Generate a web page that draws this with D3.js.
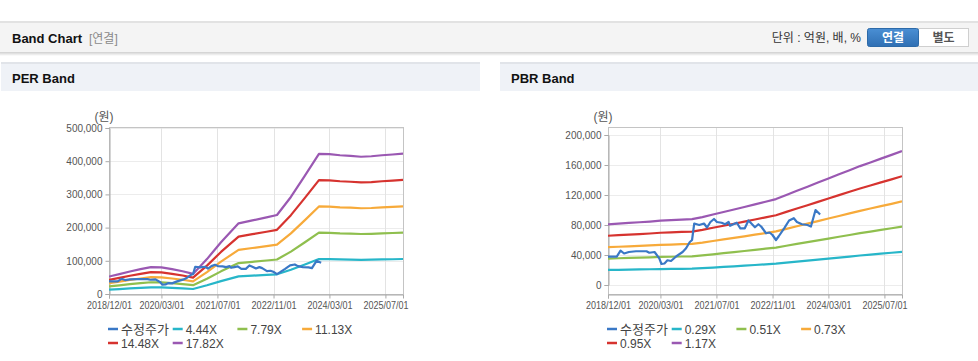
<!DOCTYPE html>
<html><head><meta charset="utf-8">
<script src="https://cdn.jsdelivr.net/npm/d3@7"></script>
<style>
html,body{margin:0;padding:0;background:#fff;}
svg{display:block;}
text{font-family:"Liberation Sans","Noto Sans CJK KR",Arial,sans-serif;}
</style></head>
<body>
<svg id="c" width="978" height="361"></svg>
<script>
// ---------- data ----------
const xTickLabels = ["2018/12/01","2020/03/01","2021/07/01","2022/11/01","2024/03/01","2025/07/01"];
const xDomain = ["2018-12-01","2025-12-01"];

// adjusted price (수정주가)
const priceDates = ["2018-12-01","2019-02-15","2019-03-20","2019-04-20","2019-06-01","2019-08-01","2019-11-01","2019-11-25","2020-01-10","2020-02-20","2020-03-10","2020-04-05","2020-05-01","2020-06-01","2020-07-15","2020-09-10","2020-10-10","2020-11-10","2020-12-01","2020-12-20","2021-02-01","2021-03-15","2021-04-10","2021-05-10","2021-06-10","2021-07-05","2021-08-15","2021-09-15","2021-10-15","2021-10-28","2021-11-25","2021-12-25","2022-01-25","2022-03-05","2022-04-05","2022-05-01","2022-06-01","2022-07-01","2022-07-25","2022-09-05","2022-10-05","2022-10-30","2022-12-01","2022-12-25","2023-02-10","2023-03-25","2023-05-05","2023-06-01","2023-07-15","2023-09-01","2023-10-01","2023-11-10","2023-12-20"];
const priceValues = [37800,37800,45800,42000,44000,45000,45000,43000,44000,35500,28000,28700,33000,32000,38000,44000,49000,57000,60000,82000,80000,82000,76700,84000,88000,84000,83000,81000,84000,79000,81000,83000,75600,75600,86000,82000,77000,81000,78000,69000,70000,67000,60000,65000,75600,86000,89000,84000,81000,80000,78000,100000,94000];

// EPS used for PER band
const epsDates = ["2018-12-01","2019-03-01","2019-06-01","2019-09-01","2019-12-01","2020-03-01","2020-06-01","2020-09-01","2020-12-01","2021-04-01","2021-08-01","2022-01-01","2022-05-01","2022-09-01","2022-12-01","2023-04-01","2023-08-01","2023-12-01","2024-03-01","2024-06-01","2024-09-01","2024-12-01","2025-03-01","2025-06-01","2025-09-01","2025-12-01"];
const epsValues = [2950,3350,3800,4200,4550,4500,4200,3850,3400,5900,8750,11950,12450,12950,13350,16400,20000,23700,23650,23450,23350,23200,23280,23450,23580,23740];
const perMultiples = [4.44,7.79,11.13,14.48,17.82];
const perLabels = ["4.44X","7.79X","11.13X","14.48X","17.82X"];

// BPS used for PBR band
const bpsDates = ["2018-12-01","2019-03-01","2019-06-01","2019-09-01","2019-12-01","2020-03-01","2020-06-01","2020-09-01","2020-12-01","2021-03-01","2021-06-01","2021-09-01","2021-12-01","2022-03-01","2022-06-01","2022-09-01","2022-12-01","2023-03-01","2023-06-01","2023-09-01","2023-12-01","2024-03-01","2024-06-01","2024-09-01","2024-12-01","2025-03-01","2025-06-01","2025-09-01","2025-12-01"];
const bpsValues = [69100,69900,70700,71500,72300,73300,73900,74500,75000,77400,80300,83200,86000,88900,91900,94900,97900,102600,107300,112000,116700,121400,126100,130800,135500,139700,144000,148300,152700];
const pbrMultiples = [0.29,0.51,0.73,0.95,1.17];
const pbrLabels = ["0.29X","0.51X","0.73X","0.95X","1.17X"];

const perYTicks = [0,100000,200000,300000,400000,500000];
const pbrYTicks = [0,40000,80000,120000,160000,200000];

const priceLabel = "수정주가";
const colors = ["#3a78c6","#27b6c9","#8fbf4e","#f7aa3a","#d6332f","#9a58b2"];

// ---------- drawing ----------
const svg = d3.select("#c");
const parse = d3.timeParse("%Y-%m-%d");
const tickParse = d3.timeParse("%Y/%m/%d");
const fmtX = d3.timeFormat("%Y/%m/%d");

// top header
svg.append("rect").attr("x",0).attr("y",21).attr("width",978).attr("height",2).attr("fill","#e2e2e2");
const defs = svg.append("defs");
const sh = defs.append("linearGradient").attr("id","shadow").attr("x1",0).attr("y1",0).attr("x2",0).attr("y2",1);
sh.append("stop").attr("offset",0).attr("stop-color","#cfcfcf");
sh.append("stop").attr("offset",1).attr("stop-color","#ffffff");
svg.append("rect").attr("x",0).attr("y",52).attr("width",978).attr("height",4).attr("fill","url(#shadow)");
svg.append("rect").attr("x",0).attr("y",23).attr("width",978).attr("height",29).attr("fill","#f4f4f4");
svg.append("text").attr("x",12).attr("y",42.5).attr("font-size",13).attr("font-weight","bold").attr("fill","#111").text("Band Chart");
svg.append("text").attr("x",89).attr("y",42.5).attr("font-size",12).attr("fill","#8a8a8a").text("[연결]");
svg.append("text").attr("x",861).attr("y",42).attr("font-size",12).attr("fill","#333").attr("text-anchor","end").text("단위 : 억원, 배, %");
const bg = defs.append("linearGradient").attr("id","btn").attr("x1",0).attr("y1",0).attr("x2",0).attr("y2",1);
bg.append("stop").attr("offset",0).attr("stop-color","#4a8fd4");
bg.append("stop").attr("offset",1).attr("stop-color","#2f6fb3");
svg.append("rect").attr("x",918.5).attr("y",28.5).attr("width",50).attr("height",18).attr("fill","#fff").attr("stroke","#cfcfcf");
svg.append("rect").attr("x",867.5).attr("y",28.5).attr("width",51).attr("height",18).attr("rx",2).attr("fill","url(#btn)").attr("stroke","#2d6aa8");
svg.append("text").attr("x",893).attr("y",42).attr("font-size",12).attr("font-weight","bold").attr("fill","#fff").attr("text-anchor","middle").text("연결");
svg.append("text").attr("x",943.5).attr("y",42).attr("font-size",12).attr("font-weight","bold").attr("fill","#555").attr("text-anchor","middle").text("별도");

// panel headers
[[1,479,"PER Band",12],[500,478,"PBR Band",511]].forEach(([x,w,t,tx])=>{
  svg.append("rect").attr("x",x).attr("y",62).attr("width",w).attr("height",2).attr("fill","#e1e4e9");
  svg.append("rect").attr("x",x).attr("y",64).attr("width",w).attr("height",27).attr("fill","#eff2f7");
  svg.append("text").attr("x",tx).attr("y",82.5).attr("font-size",13).attr("font-weight","bold").attr("fill","#111").text(t);
});

function drawChart(opt){
  const g = svg.append("g");
  const x = d3.scaleTime().domain(xDomain.map(parse)).range([opt.left, opt.right]);
  const y = d3.scaleLinear().domain(opt.yDomain).range(opt.yRange);
  const top = 127, bottom = 294;
  const tickDates = xTickLabels.map(tickParse);

  // grid
  g.selectAll(".hg").data(opt.yTicks).join("line")
    .attr("x1",opt.left).attr("x2",opt.right)
    .attr("y1",d=>Math.round(y(d))+0.5).attr("y2",d=>Math.round(y(d))+0.5)
    .attr("stroke","#ececec");
  g.selectAll(".vg").data(tickDates).join("line")
    .attr("x1",d=>Math.round(x(d))+0.5).attr("x2",d=>Math.round(x(d))+0.5)
    .attr("y1",top).attr("y2",bottom)
    .attr("stroke","#e3e3e3");

  // frame
  g.append("rect").attr("x",opt.left+0.5).attr("y",top+0.5).attr("width",opt.right-opt.left).attr("height",bottom-top)
    .attr("fill","none").attr("stroke","#c4c4c4");

  // axes
  const ya = d3.axisLeft(y).tickValues(opt.yTicks).tickFormat(d3.format(",")).tickSize(4).tickPadding(3);
  const yg = g.append("g").attr("transform",`translate(${opt.left+0.5},0)`).call(ya);
  yg.select(".domain").attr("stroke","#aaa");
  yg.selectAll(".tick line").attr("stroke","#aaa");
  yg.selectAll("text").attr("font-size",10).attr("fill","#555").attr("font-family","Liberation Sans, Arial, sans-serif");

  const xa = d3.axisBottom(x).tickValues(tickDates).tickFormat(fmtX).tickSize(4).tickPadding(3);
  const xg = g.append("g").attr("transform",`translate(0,${bottom+0.5})`).call(xa);
  xg.select(".domain").attr("stroke","#aaa");
  xg.selectAll(".tick line").attr("stroke","#aaa");
  xg.selectAll("text").attr("font-size",10.5).attr("fill","#555")
    .attr("textLength",45).attr("lengthAdjust","spacingAndGlyphs")
    .attr("font-family","Liberation Sans, Arial, sans-serif");

  g.append("text").attr("x",opt.left-5).attr("y",121).attr("font-size",12).attr("fill","#555").attr("text-anchor","middle").text("(원)");

  const clipId = "clip"+opt.id;
  defs.append("clipPath").attr("id",clipId).append("rect")
    .attr("x",opt.left).attr("y",top).attr("width",opt.right-opt.left).attr("height",bottom-top);
  const plot = g.append("g").attr("clip-path",`url(#${clipId})`);
  const line = d3.line().x(d=>x(d[0])).y(d=>y(d[1]));

  const baseDates = opt.baseDates.map(parse);
  opt.multiples.forEach((m,i)=>{
    const pts = baseDates.map((d,k)=>[d, opt.baseValues[k]*m]);
    plot.append("path").attr("d",line(pts)).attr("fill","none")
      .attr("stroke",colors[i+1]).attr("stroke-width",2.2).attr("stroke-linejoin","round");
  });
  const pp = priceDates.map((d,k)=>[parse(d), priceValues[k]]);
  plot.append("path").attr("d",line(pp)).attr("fill","none")
    .attr("stroke",colors[0]).attr("stroke-width",2.2).attr("stroke-linejoin","round");

  // legend
  const labels = [priceLabel].concat(opt.labels);
  const leg = g.append("g");
  labels.forEach((t,i)=>{
    const col = i%4, row = Math.floor(i/4);
    const lx = opt.legX + col*64.7, ly = 329 + row*14;
    leg.append("line").attr("x1",lx).attr("x2",lx+10).attr("y1",ly).attr("y2",ly)
      .attr("stroke",colors[i]).attr("stroke-width",2.5);
    leg.append("text").attr("x",lx+13).attr("y",ly+4.5).attr("font-size",i===0?13:12).attr("fill","#444").text(t);
  });
}

drawChart({id:"per", left:109, right:403, yDomain:[0,500000], yRange:[294,128], yTicks:perYTicks,
  baseDates:epsDates, baseValues:epsValues, multiples:perMultiples, labels:perLabels, legX:108});
drawChart({id:"pbr", left:608, right:902, yDomain:[0,200000], yRange:[285,135], yTicks:pbrYTicks,
  baseDates:bpsDates, baseValues:bpsValues, multiples:pbrMultiples, labels:pbrLabels, legX:607});
</script>
</body></html>
